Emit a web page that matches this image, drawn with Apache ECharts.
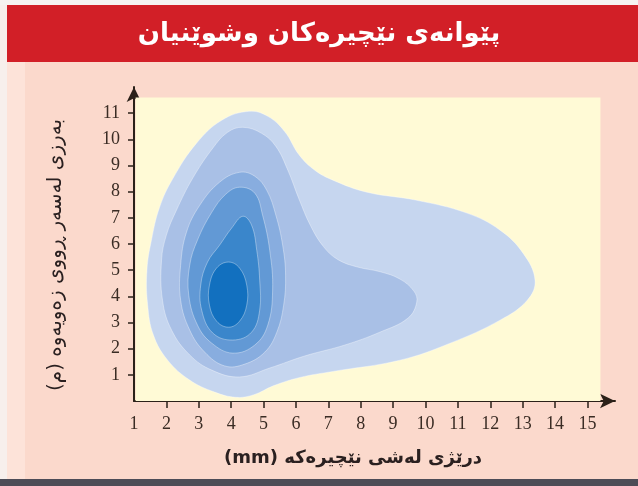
<!DOCTYPE html>
<html>
<head>
<meta charset="utf-8">
<script src="https://cdn.jsdelivr.net/npm/echarts@6/dist/echarts.min.js"></script>
<style>
  html, body { margin: 0; padding: 0; background: #fbd9cc; }
  #main { width: 638px; height: 486px; }
</style>
</head>
<body>
<div id="main" dir="rtl"></div>
<script>
// ---- text ----
const titleText = 'پێوانەی نێچیرەکان وشوێنیان';
const xName = 'درێژی لەشی نێچیرەکە (mm)';
const yName = 'بەرزی لەسەر ڕووی زەویەوە (م)';

// ---- tick labels ----
const xTicks = [1,2,3,4,5,6,7,8,9,10,11,12,13,14,15];
const yTicks = [1,2,3,4,5,6,7,8,9,10,11];

// ---- density contour levels (outer -> inner), [body length mm, height m] ----
const level1 = [[4.55,11.07],[5.13,10.88],[5.65,10.30],[6.10,9.40],[6.58,8.82],[7.14,8.44],[8.19,7.98],[9.73,7.67],[11.28,7.18],[12.30,6.53],[13.01,5.65],[13.38,4.62],[13.14,3.85],[12.30,3.09],[10.76,2.21],[9.21,1.56],[7.14,1.13],[6.12,0.90],[5.30,0.58],[4.70,0.24],[4.15,0.14],[3.49,0.34],[2.72,0.80],[2.04,1.56],[1.60,2.52],[1.42,3.70],[1.40,5.00],[1.54,6.15],[1.79,7.40],[2.20,8.50],[2.93,9.85],[3.71,10.73]];
const level2 = [[4.36,10.46],[4.94,10.23],[5.38,9.73],[5.75,8.82],[6.10,7.70],[6.45,6.70],[6.85,5.90],[7.30,5.40],[7.90,5.12],[8.60,4.94],[9.21,4.66],[9.64,4.20],[9.73,3.78],[9.46,3.17],[8.59,2.63],[7.51,2.14],[6.27,1.72],[5.19,1.26],[4.26,0.92],[3.40,1.18],[2.72,1.76],[2.16,2.71],[1.88,3.85],[1.85,5.38],[2.00,6.34],[2.31,7.29],[2.81,8.51],[3.43,9.66],[3.89,10.27]];
const level3 = [[4.26,8.74],[4.73,8.59],[5.10,8.05],[5.38,7.10],[5.59,5.95],[5.68,4.81],[5.62,3.66],[5.41,2.63],[5.04,1.87],[4.42,1.41],[3.80,1.34],[3.18,1.87],[2.72,2.71],[2.44,3.85],[2.44,5.19],[2.62,6.45],[3.03,7.48],[3.64,8.36]];
const level4 = [[4.26,8.17],[4.73,7.94],[4.97,7.10],[5.19,5.76],[5.28,4.24],[5.13,2.90],[4.73,2.14],[4.05,1.83],[3.40,2.21],[2.96,2.90],[2.69,4.05],[2.72,5.19],[2.96,6.15],[3.40,7.21],[3.83,7.90]];
const level5 = [[4.36,7.06],[4.63,6.72],[4.79,5.76],[4.88,4.62],[4.88,3.47],[4.63,2.63],[4.05,2.33],[3.43,2.60],[3.09,3.47],[3.06,4.43],[3.27,5.31],[3.64,5.95],[4.01,6.60]];
const level6 = [[3.92,5.31],[4.26,5.08],[4.48,4.43],[4.48,3.66],[4.26,3.05],[3.92,2.82],[3.55,3.05],[3.33,3.66],[3.33,4.43],[3.55,5.08]];

const levels = [level1, level2, level3, level4, level5, level6];
const levelColors = ['#c6d6ef', '#a9c0e6', '#88addf', '#6299d5', '#3a86cb', '#1270bf'];

// plot-area extent (data units)
const plotArea = [[1.05, 0], [15.4, 11.6]];

const chart = echarts.init(document.getElementById('main'), null, { renderer: 'canvas' });

const axisColor = '#2b2119';
const labelColor = '#3a2c24';

const option = {
  backgroundColor: '#fbd9cc',
  animation: false,
  title: {
    text: titleText,
    left: 'center',
    top: 16,
    textStyle: { color: '#ffffff', fontSize: 26, fontWeight: 'bold', fontFamily: 'DejaVu Sans' }
  },
  graphic: [
    { type: 'rect', left: 0, top: 0, shape: { width: 7, height: 486 }, style: { fill: '#f7efec' }, z: -1 },
    { type: 'rect', left: 7, top: 0, shape: { width: 18, height: 486 }, style: { fill: '#fde3d9' }, z: -1 },
    { type: 'rect', left: 0, top: 0, shape: { width: 638, height: 5 }, style: { fill: '#f6f3f1' }, z: -1 },
    { type: 'rect', left: 7, top: 5, shape: { width: 631, height: 57 }, style: { fill: '#d21f27' }, z: -1 },
    { type: 'rect', left: 0, top: 479, shape: { width: 638, height: 7 }, style: { fill: '#4d4c57' }, z: -1 }
  ],
  grid: { left: 134, right: 23, top: 87, bottom: 85 },
  xAxis: {
    type: 'value',
    min: 1,
    max: 15.85,
    interval: 1,
    name: xName,
    nameLocation: 'middle',
    nameGap: 48,
    nameTextStyle: { color: '#2a2020', fontSize: 18, fontWeight: 'bold', fontFamily: 'DejaVu Sans', padding: [0, 43, 0, 0] },
    axisLine: { show: true, lineStyle: { color: axisColor, width: 2 }, symbol: ['none', 'arrow'], symbolSize: [11, 15] },
    axisTick: { show: true, inside: false, length: 7, lineStyle: { color: axisColor, width: 1.5 }, customValues: xTicks.slice(1) },
    axisLabel: { color: labelColor, fontSize: 18, fontFamily: 'Liberation Serif', margin: 14, customValues: xTicks },
    splitLine: { show: false }
  },
  yAxis: {
    type: 'value',
    min: 0,
    max: 12,
    interval: 1,
    name: yName,
    nameLocation: 'middle',
    nameGap: 68,
    nameTextStyle: { color: '#2a2020', fontSize: 20, fontFamily: 'DejaVu Sans', padding: [0, 22, 0, 0] },
    axisLine: { show: true, lineStyle: { color: axisColor, width: 2 }, symbol: ['none', 'arrow'], symbolSize: [11, 15] },
    axisTick: { show: true, inside: false, length: 6, lineStyle: { color: axisColor, width: 1.5 }, customValues: yTicks },
    axisLabel: { color: labelColor, fontSize: 18, fontFamily: 'Liberation Serif', margin: 14, customValues: yTicks },
    splitLine: { show: false }
  },
  series: [
    {
      type: 'line',
      z: 1,
      data: [plotArea[0], plotArea[1]],
      showSymbol: false,
      symbol: 'none',
      lineStyle: { opacity: 0, width: 0 },
      silent: true,
      markArea: {
        silent: true,
        itemStyle: { color: '#fffad6' },
        data: [[{ coord: plotArea[0] }, { coord: plotArea[1] }]]
      }
    },
    {
      type: 'custom',
      z: 3,
      coordinateSystem: 'cartesian2d',
      silent: true,
      data: levels.map((_, i) => [i]),
      renderItem: function (params, api) {
        const idx = api.value(0);
        const pts = levels[idx].map(p => api.coord(p));
        return {
          type: 'polygon',
          shape: { points: pts, smooth: 0.4 },
          style: { fill: levelColors[idx], stroke: 'rgba(255,255,255,0.35)', lineWidth: 1 }
        };
      }
    }
  ]
};

chart.setOption(option);
</script>
</body>
</html>
